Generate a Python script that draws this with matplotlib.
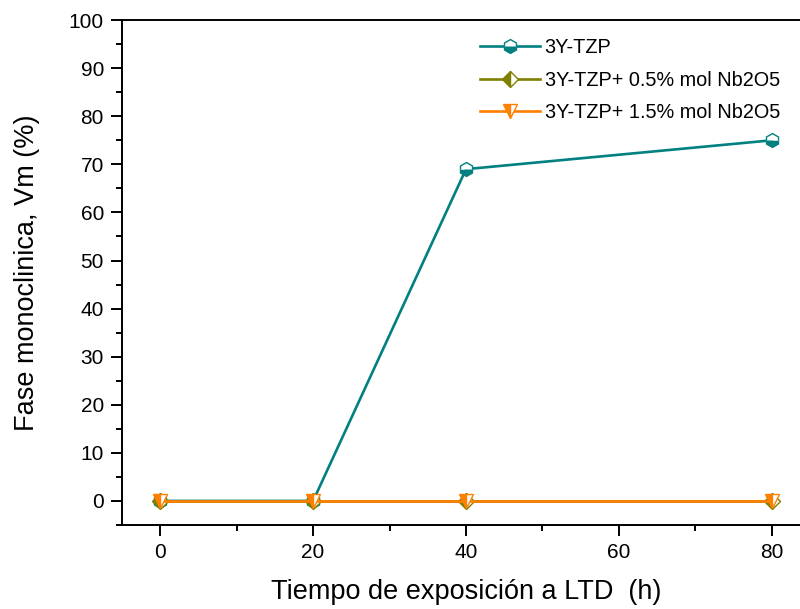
import matplotlib
matplotlib.use("Agg")
import matplotlib.pyplot as plt
from matplotlib.ticker import MultipleLocator

# Datos
tiempo = [0, 20, 40, 80]
vm_3ytzp = [0, 0, 69, 75]
vm_05nb = [0, 0, 0, 0]
vm_15nb = [0, 0, 0, 0]

labels = ["3Y-TZP", "3Y-TZP+ 0.5% mol Nb2O5", "3Y-TZP+ 1.5% mol Nb2O5"]

plt.rcParams['font.family'] = ['Liberation Sans', 'DejaVu Sans']

fig = plt.figure(figsize=(8, 6.09), dpi=100)
# el eje se sale por la derecha, como en la figura original
ax = fig.add_axes([0.1525, 0.138, 0.86, 0.829])

ax.plot(tiempo, vm_3ytzp, color='#008080', lw=1.9, marker='h', ms=10,
        fillstyle='bottom', markerfacecoloralt='white', mec='#008080',
        mew=1.0, label=labels[0])
ax.plot(tiempo, vm_05nb, color='#7f7f00', lw=1.9, marker='D', ms=8,
        fillstyle='left', markerfacecoloralt='white', mec='#7f7f00',
        mew=1.0, label=labels[1])
ax.plot(tiempo, vm_15nb, color='#ff8000', lw=1.9, marker='v', ms=10,
        fillstyle='left', markerfacecoloralt='white', mec='#ff8000',
        mew=1.0, label=labels[2])

ax.set_xlim(-5, 85)
ax.set_ylim(-5, 100)
ax.xaxis.set_major_locator(MultipleLocator(20))
ax.xaxis.set_minor_locator(MultipleLocator(10))
ax.yaxis.set_major_locator(MultipleLocator(10))
ax.yaxis.set_minor_locator(MultipleLocator(5))
ax.tick_params(which='major', direction='out', length=8, width=1.4,
               labelsize=15, pad=5)
ax.tick_params(which='minor', direction='out', length=4, width=1.4)
for s in ax.spines.values():
    s.set_linewidth(1.4)
ax.spines['right'].set_visible(False)

ax.set_xlabel("Tiempo de exposición a LTD  (h)", fontsize=19.5, labelpad=12)
ax.set_ylabel("Fase monoclinica, Vm (%)", fontsize=19.5, labelpad=21)

ax.legend(loc='upper left', bbox_to_anchor=(0.506, 0.985), frameon=False,
          borderpad=0, fontsize=14.3, handlelength=3.0, handletextpad=0.25,
          labelspacing=0.7)

fig.savefig("out.png", dpi=100)
